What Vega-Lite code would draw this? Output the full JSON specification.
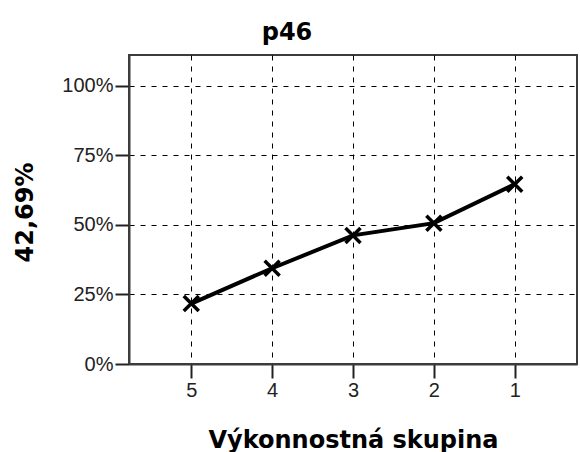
{
  "$schema": "https://vega.github.io/schema/vega-lite/v6.json",
  "autosize": {"type": "none"},
  "width": 448,
  "height": 309,
  "padding": {"left": 129, "top": 55, "right": 3, "bottom": 88},
  "background": "white",
  "title": {
    "text": "p46",
    "font": "DejaVu Sans",
    "fontWeight": "bold",
    "fontSize": 24,
    "color": "black",
    "anchor": "middle",
    "dx": -66,
    "dy": 24,
    "baseline": "alphabetic",
    "offset": 15
  },
  "data": {
    "values": [
      {"grp": "5", "value": 0.217},
      {"grp": "4", "value": 0.344},
      {"grp": "3", "value": 0.462},
      {"grp": "2", "value": 0.506},
      {"grp": "1", "value": 0.646}
    ]
  },
  "encoding": {
    "x": {
      "field": "grp",
      "type": "ordinal",
      "sort": ["5", "4", "3", "2", "1"],
      "scale": {"type": "point", "padding": 0.77},
      "axis": {
        "title": "Výkonnostná skupina",
        "titleFont": "DejaVu Sans",
        "titleFontWeight": "bold",
        "titleFontSize": 24,
        "titleColor": "black",
        "titleBaseline": "alphabetic",
        "titleY": 83,
        "labelAngle": 0,
        "labelFont": "Liberation Sans",
        "labelFontSize": 20,
        "labelColor": "#222",
        "labelPadding": 2,
        "tickSize": 14,
        "tickColor": "#222",
        "tickWidth": 2,
        "domainColor": "#3c3c3c",
        "domainWidth": 2,
        "grid": true,
        "gridColor": "black",
        "gridDash": [5, 6],
        "gridWidth": 1,
        "gridOpacity": 1
      }
    },
    "y": {
      "field": "value",
      "type": "quantitative",
      "scale": {"domain": [0, 1.11], "nice": false, "zero": true},
      "axis": {
        "title": "42,69%",
        "titleFont": "DejaVu Sans",
        "titleFontWeight": "bold",
        "titleFontSize": 24,
        "titleColor": "black",
        "titleAngle": -90,
        "titleBaseline": "alphabetic",
        "titleAlign": "center",
        "titleX": -97,
        "titleY": 157,
        "values": [0, 0.25, 0.5, 0.75, 1],
        "format": ".0%",
        "labelFont": "Liberation Sans",
        "labelFontSize": 20,
        "labelColor": "#222",
        "labelPadding": 2,
        "tickSize": 14,
        "tickColor": "#222",
        "tickWidth": 2,
        "domainColor": "#3c3c3c",
        "domainWidth": 2,
        "grid": true,
        "gridColor": "black",
        "gridDash": [5, 6],
        "gridWidth": 1,
        "gridOpacity": 1
      }
    }
  },
  "layer": [
    {"mark": {"type": "line", "color": "black", "strokeWidth": 4}},
    {
      "mark": {
        "type": "point",
        "shape": "M-1,-1L1,1M1,-1L-1,1",
        "size": 225,
        "stroke": "black",
        "strokeWidth": 3.5,
        "filled": false,
        "opacity": 1
      }
    }
  ],
  "config": {
    "view": {"stroke": "#3c3c3c", "strokeWidth": 2}
  }
}
